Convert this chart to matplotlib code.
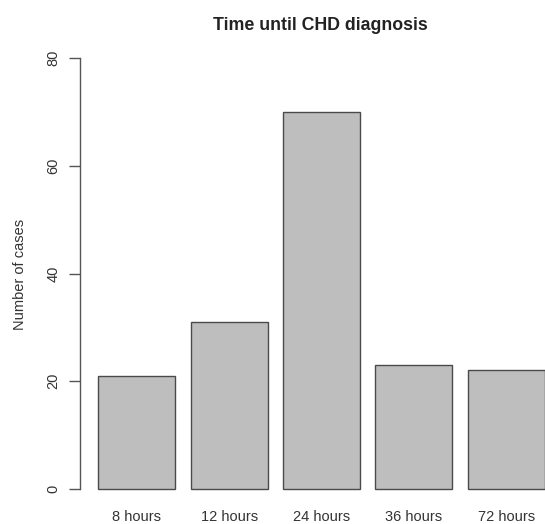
import matplotlib
matplotlib.use("Agg")
import matplotlib.pyplot as plt

categories = ["8 hours", "12 hours", "24 hours", "36 hours", "72 hours"]
cases = [21, 31, 70, 23, 22]
yticks = [0, 20, 40, 60, 80]

plt.rcParams['font.family'] = ['Liberation Sans', 'DejaVu Sans']

W, H = 545, 524
fig = plt.figure(figsize=(W / 100, H / 100), dpi=100)
ax = fig.add_axes([80 / W, 35 / H, (W - 80) / W, 431 / H])

xs = [0.7 + 1.2 * i for i in range(len(categories))]
ax.bar(xs, cases, width=1.0, color="#bebebe", edgecolor="#4a4a4a", linewidth=1.0, clip_on=False)

ax.set_xlim(-0.038, 6.002)
ax.set_ylim(0, 80)

for s in ["top", "right", "bottom"]:
    ax.spines[s].set_visible(False)
ax.spines["left"].set_color("#555555")
ax.spines["left"].set_linewidth(1.0)

ax.set_yticks(yticks)
ax.set_yticklabels([str(v) for v in yticks], rotation=90, va="center", fontsize=10.5, color="#333333")
ax.tick_params(axis="y", length=8, width=1.0, color="#555555", pad=6)

ax.set_xticks(xs)
ax.set_xticklabels(categories, fontsize=10.5, color="#333333")
ax.tick_params(axis="x", length=0, pad=15)

fig.text(20 / W, 1 - 274 / H, "Number of cases", rotation=90, ha="center", va="center",
         fontsize=10.5, color="#333333")
fig.text(320.5 / W, 1 - 25 / H, "Time until CHD diagnosis", ha="center", va="center",
         fontsize=12.8, fontweight="bold", color="#222222")

fig.savefig("out.png", dpi=100)
